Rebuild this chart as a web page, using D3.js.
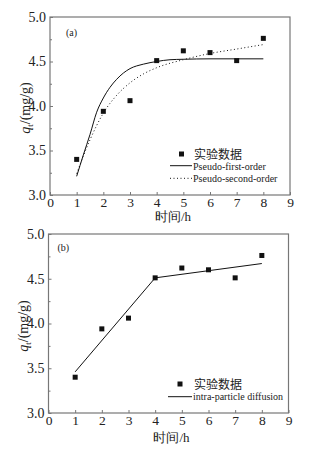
<!DOCTYPE html>
<html><head><meta charset="utf-8">
<script src="https://cdn.jsdelivr.net/npm/d3@7"></script>
<style>
body{margin:0;background:#fff;}
svg text{font-family:"Liberation Serif","Times New Roman",serif;fill:#222;}
</style></head>
<body><svg id="c" width="316" height="452"></svg>
<script>
// ---- data ----
const times = [1, 2, 3, 4, 5, 6, 7, 8];
const qExp = [3.40, 3.94, 4.06, 4.51, 4.62, 4.60, 4.51, 4.76];
const pfoT = [1, 1.25, 1.5, 1.75, 2, 2.25, 2.5, 2.75, 3, 3.5, 4, 4.5, 5, 6, 7, 8];
const pfoQ = [3.21, 3.45, 3.68, 3.93, 4.09, 4.21, 4.30, 4.37, 4.42, 4.47, 4.50, 4.52, 4.525, 4.53, 4.53, 4.53];
const psoT = [1, 1.5, 2, 2.5, 3, 3.5, 4, 5, 6, 7, 8];
const psoQ = [3.24, 3.62, 3.92, 4.12, 4.26, 4.36, 4.43, 4.52, 4.59, 4.64, 4.69];
const ipdT = [1, 4, 8];
const ipdQ = [3.46, 4.51, 4.67];
const xTicks = [0, 1, 2, 3, 4, 5, 6, 7, 8, 9];
const yTicks = [3.0, 3.5, 4.0, 4.5, 5.0];
const yMinorTicks = [3.25, 3.75, 4.25, 4.75];
const xLabel = "时间/h";
const legendA = ["实验数据", "Pseudo-first-order", "Pseudo-second-order"];
const legendB = ["实验数据", "intra-particle diffusion"];

const svg = d3.select("#c");
const frameColor = "#777";
const ink = "#111";
const serif = '"Liberation Serif","Times New Roman",serif';
const cjk = '"Noto Sans CJK SC","Liberation Serif",sans-serif';

function panel(cfg) {
  const x = d3.scaleLinear().domain([0, 9]).range([cfg.x0, cfg.x1]);
  const y = d3.scaleLinear().domain([3, 5]).range([cfg.y0, cfg.y1]);
  const g = svg.append("g");
  g.append("rect").attr("x", cfg.x0).attr("y", cfg.y1)
    .attr("width", cfg.x1 - cfg.x0).attr("height", cfg.y0 - cfg.y1)
    .attr("fill", "none").attr("stroke", frameColor).attr("stroke-width", 1.2);
  const xa = g.append("g").attr("transform", `translate(0,${cfg.y0})`)
    .call(d3.axisBottom(x).tickValues(xTicks).tickSizeInner(-3).tickSizeOuter(0).tickPadding(2).tickFormat(d3.format("d")));
  xa.attr("font-family", serif).attr("font-size", 13.5);
  xa.select(".domain").remove();
  xa.selectAll("line").attr("stroke", frameColor);
  xa.selectAll("text").attr("fill", "#222").style("font-family", serif);
  const ya = g.append("g").attr("transform", `translate(${cfg.x0},0)`)
    .call(d3.axisLeft(y).tickValues(yTicks).tickSizeInner(-3).tickSizeOuter(0).tickPadding(4).tickFormat(d3.format(".1f")));
  ya.attr("font-family", serif).attr("font-size", 14);
  ya.select(".domain").remove();
  ya.selectAll("line").attr("stroke", frameColor);
  ya.selectAll("text").attr("fill", "#222").style("font-family", serif);
  const ym = g.append("g").attr("transform", `translate(${cfg.x0},0)`)
    .call(d3.axisLeft(y).tickValues(yMinorTicks).tickSizeInner(-2).tickSizeOuter(0).tickFormat(""));
  ym.select(".domain").remove();
  ym.selectAll("line").attr("stroke", frameColor);

  g.append("text").attr("x", (cfg.x0 + cfg.x1) / 2 + 3).attr("y", cfg.y0 + cfg.xtDy)
    .attr("text-anchor", "middle").attr("font-size", 13).text(xLabel);
  const yt = g.append("text").attr("transform", `translate(${cfg.ytx},${cfg.yty}) rotate(-90)`)
    .attr("text-anchor", "middle").attr("font-size", 14);
  yt.append("tspan").attr("font-style", "italic").text("q");
  yt.append("tspan").attr("font-size", 9).attr("dy", 3).text("t");
  yt.append("tspan").attr("dy", -3).text("/(mg/g)");
  g.append("text").attr("x", cfg.x0 + cfg.labDx).attr("y", cfg.y1 + cfg.labDy)
    .attr("font-size", 10).text(cfg.label);
  return {g, x, y};
}

const line = (x, y) => d3.line().x(d => x(d[0])).y(d => y(d[1])).curve(d3.curveMonotoneX);

function points(p) {
  p.g.selectAll("rect.pt").data(times.map((t, i) => [t, qExp[i]])).join("rect")
    .attr("class", "pt").attr("x", d => p.x(d[0]) - 2.5).attr("y", d => p.y(d[1]) - 2.5)
    .attr("width", 5).attr("height", 5).attr("fill", ink);
}

// Panel (a)
const A = panel({x0: 50, x1: 290, y0: 195, y1: 17, ytx: 30, yty: 108, label: "(a)", labDx: 16, labDy: 19, xtDy: 26});
A.g.append("path").attr("d", line(A.x, A.y)(pfoT.map((t, i) => [t, pfoQ[i]])))
  .attr("fill", "none").attr("stroke", ink).attr("stroke-width", 1);
A.g.append("path").attr("d", line(A.x, A.y)(psoT.map((t, i) => [t, psoQ[i]])))
  .attr("fill", "none").attr("stroke", ink).attr("stroke-width", 1).attr("stroke-dasharray", "1,2.5");
points(A);
A.g.append("rect").attr("x", 179).attr("y", 151.5).attr("width", 5).attr("height", 5).attr("fill", ink);
A.g.append("text").attr("x", 194).attr("y", 158.5).attr("font-size", 12).style("font-family", cjk).text(legendA[0]);
A.g.append("line").attr("x1", 170).attr("x2", 192).attr("y1", 165.7).attr("y2", 165.7).attr("stroke", ink);
A.g.append("text").attr("x", 193).attr("y", 169.5).attr("font-size", 10).text(legendA[1]);
A.g.append("line").attr("x1", 170).attr("x2", 192).attr("y1", 178.3).attr("y2", 178.3).attr("stroke", ink).attr("stroke-dasharray", "1,2.5");
A.g.append("text").attr("x", 193).attr("y", 182).attr("font-size", 10).text(legendA[2]);

// Panel (b)
const B = panel({x0: 48.5, x1: 288.5, y0: 413, y1: 234, ytx: 28, yty: 326, label: "(b)", labDx: 9, labDy: 17, xtDy: 29});
B.g.append("path").attr("d", d3.line().x(d => B.x(d[0])).y(d => B.y(d[1]))(ipdT.map((t, i) => [t, ipdQ[i]])))
  .attr("fill", "none").attr("stroke", ink).attr("stroke-width", 1);
points(B);
B.g.append("rect").attr("x", 177.5).attr("y", 381.5).attr("width", 5).attr("height", 5).attr("fill", ink);
B.g.append("text").attr("x", 194).attr("y", 388.5).attr("font-size", 12).style("font-family", cjk).text(legendB[0]);
B.g.append("line").attr("x1", 168).attr("x2", 192).attr("y1", 396.7).attr("y2", 396.7).attr("stroke", ink);
B.g.append("text").attr("x", 193).attr("y", 400.3).attr("font-size", 10).text(legendB[1]);
</script></body></html>
